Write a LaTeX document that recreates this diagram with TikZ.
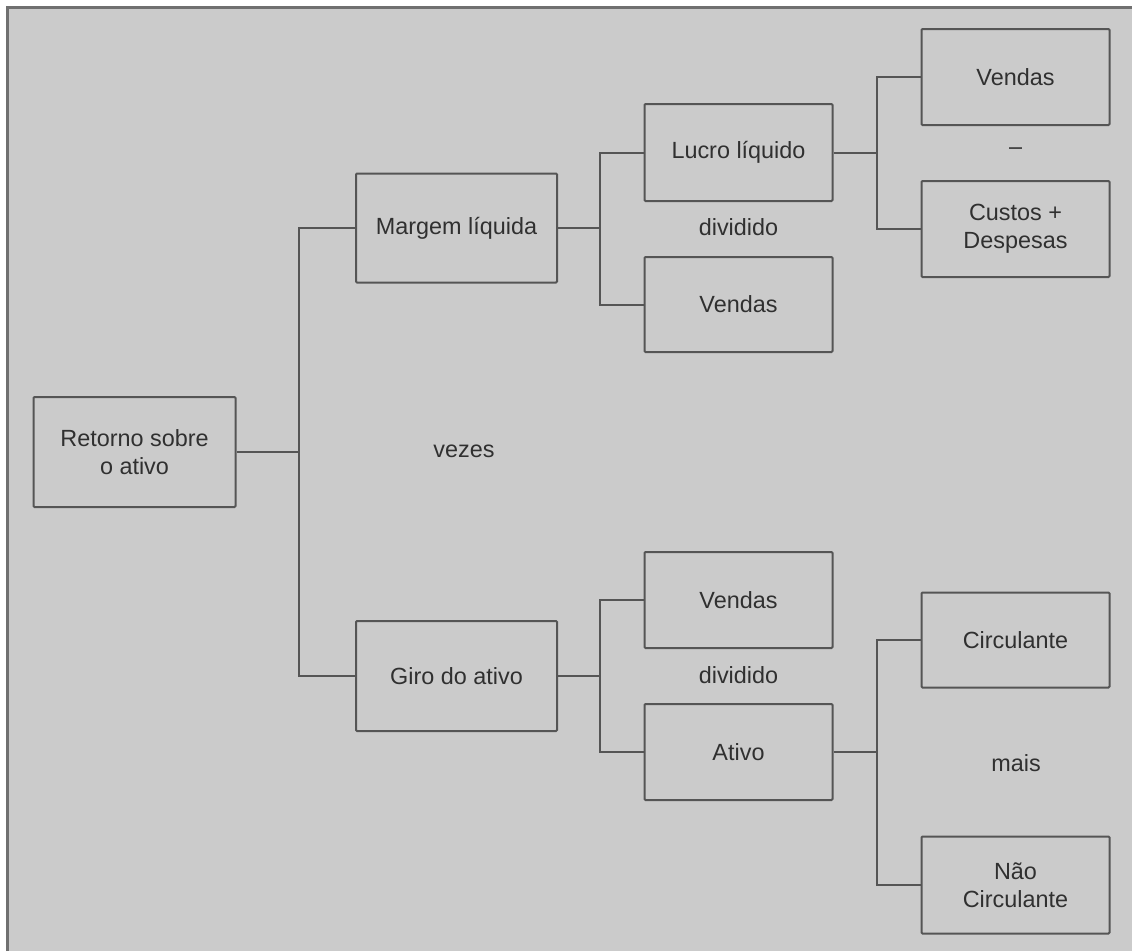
\documentclass[tikz,border=0pt]{standalone}
\usepackage{fontspec}
\setmainfont{Liberation Sans}
\definecolor{bg}{HTML}{CBCBCB}
\definecolor{ln}{HTML}{555555}
\definecolor{tx}{HTML}{303030}
\definecolor{fr}{HTML}{707070}
\begin{document}
\begin{tikzpicture}[x=1pt,y=-1pt,
  box/.style={draw=ln,line width=2pt,rounded corners=1pt,align=center,text=tx,
    font=\fontsize{23.4}{28}\selectfont,inner sep=0pt},
  lbl/.style={text=tx,font=\fontsize{23.4}{28}\selectfont},
  conn/.style={draw=ln,line width=2pt}]
\useasboundingbox (0,0) rectangle (1132,951);
\fill[white] (0,0) rectangle (1132,951);
\fill[bg] (7,7) rectangle (1132,951);
\draw[fr,line width=2.5pt] (7.5,951) -- (7.5,7.5) -- (1132,7.5);
% nodes
\node[box,minimum width=202pt,minimum height=110pt] (roa) at (134.5,452) {Retorno sobre\\o ativo};
\node[box,minimum width=201pt,minimum height=109pt] (ml) at (456.5,228) {Margem líquida};
\node[box,minimum width=201pt,minimum height=110pt] (ga) at (456.5,676) {Giro do ativo};
\node[box,minimum width=188pt,minimum height=97pt] (ll) at (738.5,152.5) {Lucro líquido};
\node[box,minimum width=188pt,minimum height=95pt] (v1) at (738.5,304.5) {Vendas};
\node[box,minimum width=188pt,minimum height=96pt] (v2) at (738.5,600) {Vendas};
\node[box,minimum width=188pt,minimum height=96pt] (at) at (738.5,752) {Ativo};
\node[box,minimum width=188pt,minimum height=96pt] (v3) at (1015.5,77) {Vendas};
\node[box,minimum width=188pt,minimum height=96pt] (cd) at (1015.5,229) {Custos +\\Despesas};
\node[box,minimum width=188pt,minimum height=95pt] (ci) at (1015.5,640) {Circulante};
\node[box,minimum width=188pt,minimum height=97pt] (nc) at (1015.5,885) {Não\\Circulante};
% labels
\node[lbl] (vezes) at (464,451) {vezes};
\node[lbl] (d1) at (738.5,227) {dividido};
\node[lbl] (d2) at (738.5,675) {dividido};
\node[lbl] (menos) at (1015.5,151) {–};
\node[lbl] (mais) at (1016,763) {mais};
% junction coordinates
\coordinate (j1) at (299,452);
\coordinate (j2) at (600,228);
\coordinate (j3) at (600,676);
\coordinate (j4) at (877,152.5);
\coordinate (j5) at (877,752);
% connectors
\draw[conn] (roa.east) -- (j1);
\draw[conn] (ml.west) -| (j1) |- (ga.west);
\draw[conn] (ml.east) -- (j2);
\draw[conn] (ll.west) -| (j2) |- (v1.west);
\draw[conn] (ga.east) -- (j3);
\draw[conn] (v2.west) -| (j3) |- (at.west);
\draw[conn] (ll.east) -- (j4);
\draw[conn] (v3.west) -| (j4) |- (cd.west);
\draw[conn] (at.east) -- (j5);
\draw[conn] (ci.west) -| (j5) |- (nc.west);
\end{tikzpicture}
\end{document}
